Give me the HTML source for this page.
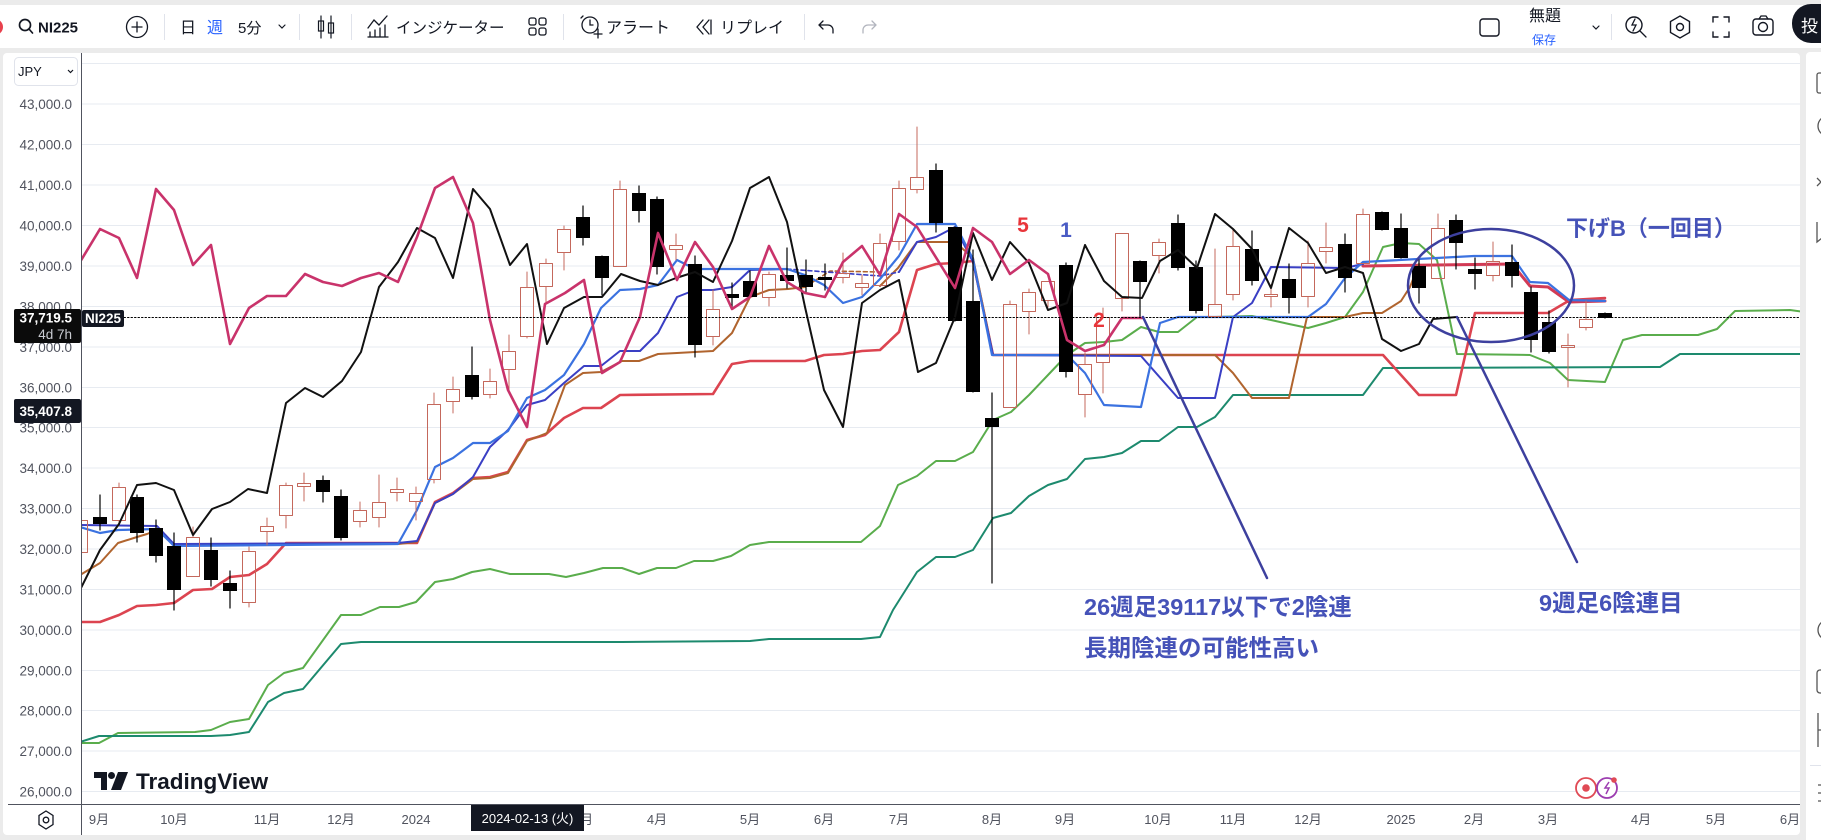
<!DOCTYPE html>
<html><head><meta charset="utf-8"><style>
html,body{margin:0;padding:0;background:#ebebeb;overflow:hidden}
svg{display:block}
text{font-family:"Liberation Sans","Noto Sans CJK JP",sans-serif}
</style></head><body>
<svg width="1821" height="840" viewBox="0 0 1821 840" xmlns="http://www.w3.org/2000/svg">
<defs><clipPath id="pc"><rect x="81" y="53" width="1719" height="751"/></clipPath></defs>
<rect width="1821" height="840" fill="#ebebeb"/>
<!-- toolbar -->
<rect x="0" y="5" width="1821" height="43" fill="#fff"/>
<circle cx="-5" cy="27" r="8" fill="#e8414d"/>
<g fill="none" stroke="#131722" stroke-width="1.7" stroke-linecap="round">
<circle cx="25" cy="25" r="5.5"/><path d="M29 29l3.5 4"/>
<circle cx="137" cy="27" r="10.5" stroke-width="1.3"/><path d="M137 22v10M132 27h10" stroke-width="1.3"/>
<path d="M279 25l3 3 3-3" stroke-width="1.2"/>
<path d="M321 16v22M331 16v22" stroke-width="1.2"/><rect x="318.5" y="21" width="5" height="10" stroke-width="1.2"/><rect x="328.5" y="23" width="5" height="10" stroke-width="1.2"/>
<path d="M368 28l6-8 5 5 8-9" stroke-width="1.3"/><path d="M370 37v-5M375 37v-7M380 37v-9M385 37v-12M368 37h20" stroke-width="1.3"/>
<rect x="529" y="18" width="7" height="7" rx="2" stroke-width="1.3"/><rect x="539" y="18" width="7" height="7" rx="2" stroke-width="1.3"/><rect x="529" y="28" width="7" height="7" rx="2" stroke-width="1.3"/><rect x="539" y="28" width="7" height="7" rx="2" stroke-width="1.3"/>
<circle cx="590" cy="25" r="8" stroke-width="1.3"/><path d="M590 20v5h3M598 29v9M594 34h8M583 16l-2 2" stroke-width="1.3"/>
<path d="M703 20l-6 7 6 7M709 20l-6 7 6 7M711 20v14" stroke-width="1.3"/>
<path d="M823 21l-4 4 4 4M819 25h9a5 5 0 0 1 5 5v3" stroke-width="1.3"/>
<path d="M872 21l4 4-4 4M876 25h-8a5 5 0 0 0-5 5v3" stroke="#b2b5be" stroke-width="1.3"/>
<rect x="1480" y="19" width="19" height="17" rx="3" stroke-width="1.4"/>
<path d="M1593 26l3 3 3-3" stroke-width="1.2"/>
<circle cx="1634" cy="25" r="8" stroke-width="1.4"/><path d="M1640 31l6 6M1635 19l-3 6h4l-3 6" stroke-width="1.3"/>
<path d="M1680 16l9.5 5.5v11L1680 38l-9.5-5.5v-11z" stroke-width="1.4"/><circle cx="1680" cy="27" r="3.5" stroke-width="1.4"/>
<path d="M1713 22v-5h5M1724 17h5v5M1729 32v5h-5M1718 37h-5v-5" stroke-width="1.4"/>
<rect x="1753" y="19" width="20" height="16" rx="3" stroke-width="1.4"/><circle cx="1763" cy="27" r="4.5" stroke-width="1.4"/><path d="M1759 19l2-3h5l2 3" stroke-width="1.3"/>
</g>
<g stroke="#e0e3eb" stroke-width="1"><path d="M164.5 14v26M299.5 14v26M351.5 14v26M563.5 14v26M804.5 14v26M1611.5 14v26"/></g>
<g fill="#131722">
<text x="38" y="32.5" font-size="15" font-weight="bold">NI225</text>
<text x="180" y="33" font-size="16">日</text>
<text x="207" y="33" font-size="16" fill="#2962ff">週</text>
<text x="238" y="33" font-size="15">5分</text>
<text x="396" y="33" font-size="15.5">インジケーター</text>
<text x="606" y="33" font-size="16">アラート</text>
<text x="720" y="33" font-size="16">リプレイ</text>
<text x="1529" y="21" font-size="16">無題</text>
<text x="1532" y="44" font-size="12" fill="#2962ff">保存</text>
</g>
<rect x="1792" y="4" width="70" height="39" rx="19" fill="#131722"/>
<text x="1801" y="32" font-size="17" fill="#fff">投</text>
<!-- panels -->
<rect x="3" y="53" width="1797" height="782" rx="4" fill="#fff"/>
<rect x="1806" y="52" width="30" height="800" rx="4" fill="#fff"/>
<g fill="none" stroke="#555" stroke-width="1.3">
<rect x="1817" y="73" width="10" height="20" rx="2"/><circle cx="1828" cy="126" r="10"/><path d="M1817 178l4 4-4 4"/><path d="M1817 222v20l5-4"/>
<circle cx="1828" cy="630" r="10"/><rect x="1817" y="670" width="10" height="23" rx="3"/><path d="M1818 713v34M1818 730h4"/><path d="M1818 785h4M1818 793h4M1818 801h4"/>
</g>
<path d="M1810 765.5h12" stroke="#e0e3eb"/>
<!-- grid -->
<path d="M81 63.5H1800M81 104H1800M81 144.5H1800M81 185H1800M81 225.5H1800M81 266H1800M81 306.5H1800M81 347H1800M81 387.5H1800M81 427.5H1800M81 468H1800M81 508.5H1800M81 549H1800M81 589.5H1800M81 630H1800M81 670.5H1800M81 710.5H1800M81 751H1800M81 791.5H1800" stroke="#e7ebf1" stroke-width="1"/>
<!-- y labels -->
<g font-size="13.5" fill="#50535e" text-anchor="end">
<text x="72" y="109">43,000.0</text><text x="72" y="149.5">42,000.0</text><text x="72" y="190">41,000.0</text><text x="72" y="230.5">40,000.0</text><text x="72" y="271">39,000.0</text><text x="72" y="311.5">38,000.0</text><text x="72" y="352">37,000.0</text><text x="72" y="392.5">36,000.0</text><text x="72" y="432.5">35,000.0</text><text x="72" y="473">34,000.0</text><text x="72" y="513.5">33,000.0</text><text x="72" y="554">32,000.0</text><text x="72" y="594.5">31,000.0</text><text x="72" y="635">30,000.0</text><text x="72" y="675.5">29,000.0</text><text x="72" y="715.5">28,000.0</text><text x="72" y="756">27,000.0</text><text x="72" y="796.5">26,000.0</text>
</g>
<rect x="14.5" y="57.5" width="63" height="28" rx="4" fill="#fff" stroke="#e0e3eb"/>
<text x="18" y="76" font-size="13" fill="#131722">JPY</text>
<path d="M68 70l2.5 2.5 2.5-2.5" fill="none" stroke="#131722" stroke-width="1.2"/>
<!-- plot -->
<g clip-path="url(#pc)" fill="none" stroke-linejoin="round" stroke-linecap="round">
<polyline stroke="#5aad4c" stroke-width="2" points="80,743 99,743 118,733 195,732 211,730 230,722 249,719 268,685 284,673 303,668 341,615 361,615 380,607 399,607 416,602 435,582 453,579 472,572 490,569 510,574 549,574 566,577 584,573 603,568 622,568 639,574 657,568 676,568 694,561 713,561 731,556 750,545 769,542 861,542 880,526 898,485 917,476 936,461 955,461 973,452 993,420 1011,412 1029,395 1048,375 1067,355 1085,343 1104,342 1122,340 1141,327 1159,332 1178,332 1197,317 1215,317 1252,316 1271,320 1289,324 1308,328 1326,323 1345,317 1363,292 1383,247 1401,243 1419,244 1437,260 1457,354 1530,355 1550,363 1568,380 1605,382 1623,340 1642,335 1698,335 1717,329 1735,311 1790,310 1805,312"/>
<polyline stroke="#1d8a6e" stroke-width="2" points="80,742 99,736 211,736 230,735 249,732 268,702 284,693 303,689 341,644 361,642 622,642 750,641 769,639 861,639 880,637 893,610 917,572 936,557 955,557 973,550 993,518 1011,513 1029,496 1048,485 1067,479 1085,459 1104,457 1122,453 1141,441 1159,441 1178,427 1197,427 1215,417 1233,395 1363,395 1383,368 1660,367 1680,354 1805,354"/>
<polyline stroke="#dc4450" stroke-width="2.6" points="80,622 100,622 119,615 137,606 156,605 174,603 193,590 212,589 230,577 249,575 267,564 286,543 417,543 435,502 453,493 473,478 490,477 508,472 527,440 545,435 564,418 583,408 601,408 620,395 713,394 732,364 750,361 805,361 824,355 843,354 862,351 880,350 899,332 917,270 936,264 955,263 973,261 993,355 1383,355 1419,395 1456,395 1475,313 1548,313 1570,300 1605,298"/>
<polyline stroke="#d23a55" stroke-width="3" points="1363,266 1512,264 1530,286 1548,287 1569,302 1605,301"/>
<polyline stroke="#b0642e" stroke-width="2" points="80,575 100,563 118,543 137,537 147,534 157,530 174,545 398,544 417,542 435,503 453,494 473,479 490,478 508,473 527,441 547,433 565,385 583,373 601,372 622,361 639,361 658,354 677,353 713,351 732,333 750,297 769,290 788,289 805,287"/>
<polyline stroke="#b0642e" stroke-width="1.6" stroke-dasharray="4 3" points="805,287 830,271 880,272"/>
<polyline stroke="#b0642e" stroke-width="2" points="880,286 898,268 917,242 955,242 973,258 993,355 1215,355 1233,373 1252,398 1289,398 1307,317 1345,317 1363,313 1382,313 1401,301 1410,287 1419,264"/>
<polyline stroke="#3a3fc4" stroke-width="2" points="80,525 157,526 174,544 398,543 417,541 435,503 453,494 473,477 490,447 508,430 527,405 545,400 564,383 584,366 601,366 620,351 640,351 658,333 677,297 695,290 713,290 732,287 750,270 787,269"/>
<polyline stroke="#3a3fc4" stroke-width="1.6" stroke-dasharray="4 3" points="787,269 880,276 899,272"/>
<polyline stroke="#3a3fc4" stroke-width="2" points="899,272 917,242 936,237 955,227 973,262 993,355 1141,356 1178,398 1215,398 1233,317 1252,303 1271,267 1345,268 1363,264"/>
<polyline stroke="#3b72e0" stroke-width="2.2" points="80,527 100,533 118,530 157,529 174,546 398,544 417,510 435,467 453,458 473,443 490,443 508,431 527,398 545,390 564,375 584,344 601,308 620,290 640,289 658,285 677,260 695,269 787,269 805,275 824,285 843,303 862,297 880,279 899,256 917,224 955,224 973,259 992,355 1067,355 1085,373 1104,405 1141,407 1160,323 1178,317 1308,317 1326,304 1345,278 1363,262 1474,256 1512,256 1530,282 1548,283 1569,300 1605,301"/>
<!-- candles -->
<g stroke="#c4685c" stroke-width="1">
<path d="M81 516V520M119 483V487M119 521V523M193 527V537M249 547V551M249 603V607M267 518V526M267 532V545M286 483V485M286 516V528M304 473V483M304 487V501M360 502V510M360 522V527M379 475V502M379 518V527M397 478V489M397 493V501M416 487V493M416 502V520M434 393V404M434 480V483M453 377V389M453 402V413M490 369V381M490 395V398M509 335V351M509 370V390M527 272V287M527 337V338M546 259V263M546 287V303M564 226V229M564 253V270M620 181V189M676 234V245M676 250V260M713 290V309M713 337V345M769 272V274M769 298V306M843 253V273M843 278V283M862 275V283M862 288V295M880 234V243M899 181V188M899 242V250M917 127V177M917 190V193M1010 301V304M1029 289V292M1029 312V334M1048 301V307M1085 353V364M1085 395V417M1103 308V317M1103 363V393M1122 299V311M1159 239V242M1159 256V273M1215 249V304M1233 230V246M1233 295V300M1271 285V294M1271 297V307M1308 241V263M1308 297V307M1326 223V247M1326 252V263M1363 209V214M1438 214V228M1493 242V261M1493 276V281M1568 334V345M1568 348V387M1586 301V319M1586 328V330"/>
<rect x="74.5" y="520.5" width="13" height="32"/><rect x="112.5" y="487.5" width="13" height="33"/><rect x="186.5" y="537.5" width="13" height="39"/><rect x="242.5" y="551.5" width="13" height="51"/><rect x="260.5" y="526.5" width="13" height="5"/><rect x="279.5" y="485.5" width="13" height="30"/><rect x="297.5" y="483.5" width="13" height="3"/><rect x="353.5" y="510.5" width="13" height="11"/><rect x="372.5" y="502.5" width="13" height="15"/><rect x="390.5" y="489.5" width="13" height="3"/><rect x="409.5" y="493.5" width="13" height="8"/><rect x="427.5" y="404.5" width="13" height="75"/><rect x="446.5" y="389.5" width="13" height="12"/><rect x="483.5" y="381.5" width="13" height="13"/><rect x="502.5" y="351.5" width="13" height="18"/><rect x="520.5" y="287.5" width="13" height="49"/><rect x="539.5" y="263.5" width="13" height="23"/><rect x="557.5" y="229.5" width="13" height="23"/><rect x="613.5" y="189.5" width="13" height="77"/><rect x="669.5" y="245.5" width="13" height="4"/><rect x="706.5" y="309.5" width="13" height="27"/><rect x="762.5" y="274.5" width="13" height="23"/><rect x="836.5" y="273.5" width="13" height="4"/><rect x="855.5" y="283.5" width="13" height="4"/><rect x="873.5" y="243.5" width="13" height="42"/><rect x="892.5" y="188.5" width="13" height="53"/><rect x="910.5" y="177.5" width="13" height="12"/><rect x="1003.5" y="304.5" width="13" height="103"/><rect x="1022.5" y="292.5" width="13" height="19"/><rect x="1041.5" y="281.5" width="13" height="19"/><rect x="1078.5" y="364.5" width="13" height="30"/><rect x="1096.5" y="317.5" width="13" height="45"/><rect x="1115.5" y="233.5" width="13" height="65"/><rect x="1152.5" y="242.5" width="13" height="13"/><rect x="1208.5" y="304.5" width="13" height="12"/><rect x="1226.5" y="246.5" width="13" height="48"/><rect x="1264.5" y="294.5" width="13" height="2"/><rect x="1301.5" y="263.5" width="13" height="33"/><rect x="1319.5" y="247.5" width="13" height="4"/><rect x="1356.5" y="214.5" width="13" height="49"/><rect x="1431.5" y="228.5" width="13" height="50"/><rect x="1486.5" y="261.5" width="13" height="14"/><rect x="1561.5" y="345.5" width="13" height="2"/><rect x="1579.5" y="319.5" width="13" height="8"/>
</g>
<path stroke="#000" stroke-width="1.2" d="M100 495V530M137 495V542M156 520V562M174 533V610M211 538V586M230 571V608M323 476V502M341 490V540M472 347V399M583 206V245M602 256V295M639 186V222M657 197V274M695 256V357M732 283V307M750 271V297M787 248V288M806 260V293M825 264V290M936 164V232M955 227V321M973 250V392M992 393V583M1066 263V377M1140 261V317M1178 215V270M1196 261V313M1252 231V285M1289 264V313M1345 234V292M1382 212V230M1401 214V258M1419 260V303M1456 215V269M1475 258V289M1512 245V287M1531 287V352M1549 311V353M1605 313V318"/>
<g fill="#000" stroke="none">
<rect x="93" y="517" width="14" height="7"/><rect x="130" y="497" width="14" height="36"/><rect x="149" y="528" width="14" height="28"/><rect x="167" y="546" width="14" height="44"/><rect x="204" y="550" width="14" height="30"/><rect x="223" y="583" width="14" height="8"/><rect x="316" y="480" width="14" height="12"/><rect x="334" y="496" width="14" height="42"/><rect x="465" y="375" width="14" height="22"/><rect x="576" y="217" width="14" height="21"/><rect x="595" y="256" width="14" height="22"/><rect x="632" y="193" width="14" height="18"/><rect x="650" y="199" width="14" height="68"/><rect x="688" y="264" width="14" height="81"/><rect x="725" y="294" width="14" height="4"/><rect x="743" y="281" width="14" height="16"/><rect x="780" y="275" width="14" height="6"/><rect x="799" y="275" width="14" height="12"/><rect x="818" y="277" width="14" height="3"/><rect x="929" y="170" width="14" height="53"/><rect x="948" y="227" width="14" height="94"/><rect x="966" y="301" width="14" height="91"/><rect x="985" y="418" width="14" height="9"/><rect x="1059" y="265" width="14" height="107"/><rect x="1133" y="261" width="14" height="21"/><rect x="1171" y="223" width="14" height="45"/><rect x="1189" y="267" width="14" height="44"/><rect x="1245" y="249" width="14" height="32"/><rect x="1282" y="279" width="14" height="19"/><rect x="1338" y="244" width="14" height="34"/><rect x="1375" y="212" width="14" height="18"/><rect x="1394" y="228" width="14" height="30"/><rect x="1412" y="266" width="14" height="22"/><rect x="1449" y="220" width="14" height="23"/><rect x="1468" y="269" width="14" height="5"/><rect x="1505" y="262" width="14" height="14"/><rect x="1524" y="292" width="14" height="48"/><rect x="1542" y="322" width="14" height="30"/><rect x="1598" y="313" width="14" height="5"/>
</g>
<polyline stroke="#111" stroke-width="2" points="80,590 100,550 119,524 137,485 156,483 174,490 193,535 212,509 230,502 248,489 267,493 286,403 305,388 323,397 342,381 361,352 379,287 398,262 417,228 435,238 453,278 473,189 490,209 510,265 527,244 547,344 564,308 584,297 602,297 621,274 640,281 658,285 676,278 695,272 713,282 732,241 750,188 769,177 787,222 805,307 824,390 843,427 862,303 880,290 899,280 918,372 936,363 955,317 973,233 992,280 1010,242 1029,263 1048,310 1067,303 1085,245 1104,281 1122,297 1142,298 1160,261 1178,250 1197,268 1215,214 1233,229 1252,249 1271,288 1289,228 1308,243 1326,273 1345,267 1363,273 1382,339 1401,351 1419,344 1433,319 1457,317"/>
<polyline stroke="#c9336b" stroke-width="2.6" points="80,262 100,229 119,238 137,278 156,189 174,210 193,265 211,245 230,344 249,308 267,296 286,296 305,274 323,282 342,286 361,278 379,273 398,282 417,237 435,188 453,177 473,223 490,320 508,390 527,427 545,304 565,293 584,280 602,373 620,362 640,317 658,233 677,280 695,242 713,267 732,309 750,297 769,246 787,282 805,293 825,297 843,262 862,246 880,275 899,214 917,227 955,288 973,228 992,242 1010,274 1029,260 1048,274 1067,340 1085,351 1104,345 1122,318 1142,318"/>
<path d="M124 317.5H1800" stroke="#000" stroke-width="1" stroke-dasharray="1.5 2"/>
<!-- annotations -->
<g stroke="#3d409e" stroke-width="2.5">
<ellipse cx="1491" cy="285.5" rx="83" ry="56.5"/>
<path d="M1457 317L1577 562M1143 317L1267 578"/>
</g>
</g>
<g font-weight="bold">
<text x="1023" y="232" font-size="21" fill="#e8353a" text-anchor="middle">5</text>
<text x="1066" y="237" font-size="21" fill="#4a5bc4" text-anchor="middle">1</text>
<text x="1099" y="327" font-size="21" fill="#e8353a" text-anchor="middle">2</text>
<text x="1566" y="236" font-size="22" fill="#4552b8">下げB（一回目）</text>
<text x="1539" y="611" font-size="23.5" fill="#4552b8">9週足6陰連目</text>
<text x="1084" y="615" font-size="23.5" fill="#4552b8">26週足39117以下で2陰連</text>
<text x="1084" y="656" font-size="23.5" fill="#4552b8">長期陰連の可能性高い</text>
</g>
<!-- logo -->
<g fill="#131722">
<path d="M94 772h13v18h-6v-12h-7z"/><circle cx="111.5" cy="775.5" r="3.5"/><path d="M118 772h10l-7 18h-10z"/>
<text x="136" y="789" font-size="22.5" font-weight="bold">TradingView</text>
</g>
<circle cx="1586" cy="788" r="10" fill="#fff" stroke="#e04a55" stroke-width="1.8"/><circle cx="1586" cy="788" r="3.8" fill="#e04a55"/>
<circle cx="1607" cy="788" r="10" fill="#fff" stroke="#9c3db0" stroke-width="1.8"/><path d="M1609 782l-4 6h4l-3 6" fill="none" stroke="#9c3db0" stroke-width="1.5"/><circle cx="1614" cy="780" r="2.8" fill="#e04a55"/>
<!-- price tags -->
<rect x="82" y="310" width="42" height="17" rx="2" fill="#131722"/>
<text x="103" y="323" font-size="13.5" font-weight="bold" fill="#fff" text-anchor="middle">NI225</text>
<rect x="14" y="309" width="67" height="34" rx="2" fill="#0b0b0b"/>
<text x="72" y="322.5" font-size="13.5" font-weight="bold" fill="#fff" text-anchor="end">37,719.5</text>
<text x="72" y="339" font-size="13.5" fill="#c9cbd1" text-anchor="end">4d 7h</text>
<rect x="14" y="399" width="67" height="24" rx="2" fill="#131722"/>
<text x="72" y="416" font-size="13.5" font-weight="bold" fill="#fff" text-anchor="end">35,407.8</text>
<!-- axes -->
<path d="M81.5 53V835M8 804.5H1800" stroke="#50535e" stroke-width="1"/>
<g font-size="13" fill="#50535e" text-anchor="middle">
<text x="99" y="824">9月</text><text x="174" y="824">10月</text><text x="267" y="824">11月</text><text x="341" y="824">12月</text><text x="416" y="824">2024</text><text x="583" y="824">3月</text><text x="657" y="824">4月</text><text x="750" y="824">5月</text><text x="824" y="824">6月</text><text x="899" y="824">7月</text><text x="992" y="824">8月</text><text x="1065" y="824">9月</text><text x="1158" y="824">10月</text><text x="1233" y="824">11月</text><text x="1308" y="824">12月</text><text x="1401" y="824">2025</text><text x="1474" y="824">2月</text><text x="1548" y="824">3月</text><text x="1641" y="824">4月</text><text x="1716" y="824">5月</text><text x="1790" y="824">6月</text>
</g>
<rect x="1800" y="805" width="6" height="35" fill="#ebebeb"/>
<rect x="471" y="805" width="113" height="26" fill="#131722"/>
<text x="527.5" y="823" font-size="13" fill="#fff" text-anchor="middle">2024-02-13 (火)</text>
<g fill="none" stroke="#131722" stroke-width="1.3"><path d="M46 811l7 4.5v9L46 829l-7-4.5v-9z"/><circle cx="46" cy="820" r="2.8"/></g>
</svg>
</body></html>
